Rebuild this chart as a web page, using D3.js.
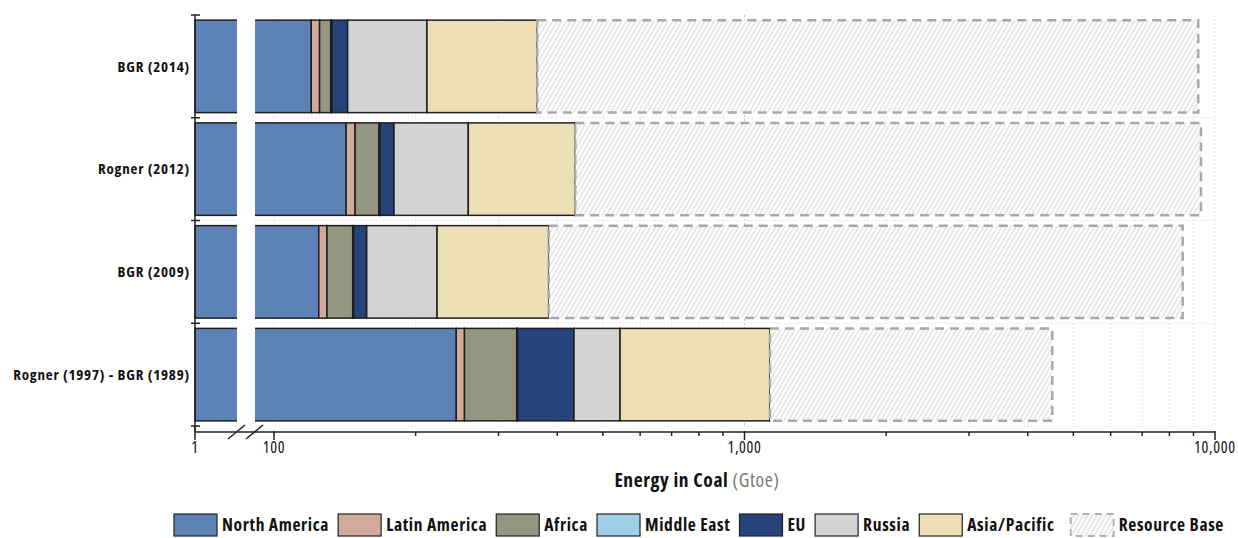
<!DOCTYPE html>
<html>
<head>
<meta charset="utf-8">
<script src="https://cdn.jsdelivr.net/npm/d3@7"></script>
<style>
  body { margin: 0; background: #fff; }
  svg text { font-family: "Open Sans", Roboto, sans-serif; font-stretch: 75%; }
</style>
</head>
<body>
<svg id="chart" width="1238" height="538"></svg>
<script>
const categories = ["BGR (2014)", "Rogner (2012)", "BGR (2009)", "Rogner (1997) - BGR (1989)"];
const regions = ["North America", "Latin America", "Africa", "Middle East", "EU", "Russia", "Asia/Pacific", "Resource Base"];

// Gtoe per region, one value per study (same order as categories)
const northAmerica = [120, 142.3, 124.5, 244];
const latinAmerica = [5, 6.4, 5.1, 10];
const africa = [7, 18.5, 17.4, 74];
const middleEast = [0.8, 0.8, 0.7, 1.5];
const eu = [10.6, 11.9, 9.7, 104.6];
const russia = [68, 78.9, 64.7, 109.7];
const asiaPacific = [151.3, 178.1, 161.5, 589];
const resourceBase = [8850, 8900, 8154, 3377];

const majorTicks = [100, 1000, 10000];
const minorTicks = [200, 300, 400, 500, 600, 700, 800, 900, 2000, 3000, 4000, 5000, 6000, 7000, 8000, 9000];

const colors = ["#5d82b6", "#d0ab9b", "#949681", "#9fd0e8", "#26437b", "#d3d3d3", "#ecdfb5", "url(#hatch)"];

const series = [northAmerica, latinAmerica, africa, middleEast, eu, russia, asiaPacific, resourceBase];

const svg = d3.select("#chart");

const defs = svg.append("defs");
const pat = defs.append("pattern")
    .attr("id", "hatch")
    .attr("patternUnits", "userSpaceOnUse")
    .attr("width", 4).attr("height", 4)
    .attr("patternTransform", "rotate(30)");
pat.append("rect").attr("width", 4).attr("height", 4).attr("fill", "#fff");
pat.append("line")
    .attr("x1", 1).attr("y1", 0).attr("x2", 1).attr("y2", 4)
    .attr("stroke", "#d2d2d2").attr("stroke-width", 1);

// broken log axis: small left piece starting at 1, main piece from ~90 up
const axisY = 432;
const gapL = 237, gapR = 255;
const xLeft = d3.scaleLog().domain([1, 10]).range([195, gapL]).clamp(true);
const xRight = d3.scaleLog().domain([100, 10000]).range([274, 1215]);
const breakVal = xRight.invert(gapR);
const xPos = v => v < breakVal ? xLeft(Math.max(v, 1)) : xRight(v);

const y = d3.scaleBand()
    .domain(categories)
    .range([15, 426])
    .paddingInner(0.1)
    .paddingOuter(0.05);
const step = y.step();
const bounds = d3.range(categories.length + 1).map(i => 15 + i * step);

// grid
const grid = svg.append("g");
grid.selectAll(".vg")
    .data(minorTicks.concat(majorTicks))
    .enter().append("line")
    .attr("x1", d => xRight(d)).attr("x2", d => xRight(d))
    .attr("y1", 15).attr("y2", 426)
    .attr("stroke", d => d === 1000 ? "#bdbdbd" : "#e6e6e6")
    .attr("stroke-dasharray", "2,2");
grid.selectAll(".hg")
    .data(bounds.slice(1))
    .enter().append("line")
    .attr("x1", 195).attr("x2", 1215)
    .attr("y1", d => d).attr("y2", d => d)
    .attr("stroke", "#e6e6e6")
    .attr("stroke-dasharray", "2,2");

// stacked bars
const rows = categories.map((c, i) => {
    let acc = 0;
    return regions.map((r, k) => {
        const v0 = acc;
        acc += series[k][i];
        return { cat: c, region: r, k, v0, v1: acc };
    });
});

const bars = svg.append("g");
rows.forEach(segs => {
    bars.selectAll(null)
        .data(segs.filter(s => s.v1 > s.v0))
        .enter().append("rect")
        .attr("x", d => xPos(Math.max(d.v0, 1)))
        .attr("width", d => xPos(d.v1) - xPos(Math.max(d.v0, 1)))
        .attr("y", d => y(d.cat))
        .attr("height", y.bandwidth())
        .attr("fill", d => colors[d.k])
        .attr("stroke", d => d.k === 7 ? "#a8a8a8" : "#1e1e1e")
        .attr("stroke-width", d => d.k === 7 ? 2.5 : 1.5)
        .attr("stroke-dasharray", d => d.k === 7 ? "9,6" : null);
});

// white gap of the axis break
svg.append("rect")
    .attr("x", gapL).attr("y", 12)
    .attr("width", gapR - gapL).attr("height", 419)
    .attr("fill", "#fff");

// y axis
const yAxis = svg.append("g");
yAxis.append("line")
    .attr("x1", 195).attr("x2", 195)
    .attr("y1", 15).attr("y2", axisY)
    .attr("stroke", "#222").attr("stroke-width", 1.5);
yAxis.selectAll(".yt")
    .data(bounds)
    .enter().append("line")
    .attr("x1", 191).attr("x2", 200)
    .attr("y1", d => d).attr("y2", d => d)
    .attr("stroke", "#222").attr("stroke-width", 1.5);
yAxis.selectAll(".yl")
    .data(categories)
    .enter().append("text")
    .attr("x", 190)
    .attr("y", d => y(d) + y.bandwidth() / 2)
    .attr("dy", "0.35em")
    .attr("text-anchor", "end")
    .attr("font-size", 15)
    .attr("letter-spacing", 0.8)
    .attr("font-weight", "bold")
    .attr("fill", "#111")
    .text(d => d);

// x axis
const xAxisG = svg.append("g").attr("transform", `translate(0,${axisY})`);
xAxisG.append("line")
    .attr("x1", 195).attr("x2", 1215)
    .attr("stroke", "#222").attr("stroke-width", 1.5);
xAxisG.selectAll(".mt")
    .data(minorTicks)
    .enter().append("line")
    .attr("x1", d => xRight(d)).attr("x2", d => xRight(d))
    .attr("y1", 0).attr("y2", 4)
    .attr("stroke", "#222").attr("stroke-width", 1.5);
const majors = [{ v: 1, x: xLeft(1) }].concat(majorTicks.map(v => ({ v, x: xRight(v) })));
xAxisG.selectAll(".Mt")
    .data(majors)
    .enter().append("line")
    .attr("x1", d => d.x).attr("x2", d => d.x)
    .attr("y1", d => d.v === 1 ? -6 : -1).attr("y2", 8)
    .attr("stroke", "#222").attr("stroke-width", 1.5);
xAxisG.selectAll(".Ml")
    .data(majors)
    .enter().append("text")
    .attr("x", d => d.x)
    .attr("y", 21)
    .attr("text-anchor", "middle")
    .attr("font-size", 16)
    .attr("letter-spacing", 0.7)
    .attr("fill", "#111")
    .text(d => d3.format(",")(d.v));
// break marks
[228, 246].forEach(x0 => {
    xAxisG.append("line")
        .attr("x1", x0).attr("y1", 7)
        .attr("x2", x0 + 17).attr("y2", -7)
        .attr("stroke", "#222").attr("stroke-width", 1.5);
});

// axis title
const title = svg.append("text")
    .attr("x", 697).attr("y", 487)
    .attr("text-anchor", "middle")
    .attr("font-size", 19.5)
    .attr("letter-spacing", 0.6)
    .attr("fill", "#111");
title.append("tspan").attr("font-weight", "bold").text("Energy in Coal");
title.append("tspan").attr("fill", "#777").text(" (Gtoe)");

// legend
const legend = svg.append("g");
let lx = 0;
regions.forEach((r, k) => {
    const g = legend.append("g");
    g.append("rect")
        .attr("x", lx).attr("y", 514)
        .attr("width", 43).attr("height", 22)
        .attr("fill", colors[k])
        .attr("stroke", k === 7 ? "#b0b0b0" : "#222")
        .attr("stroke-width", k === 7 ? 2 : 1.2)
        .attr("stroke-dasharray", k === 7 ? "7,5" : null);
    const t = g.append("text")
        .attr("x", lx + 48).attr("y", 531)
        .attr("font-size", 17.5)
        .attr("letter-spacing", 0.65)
        .attr("font-weight", "bold")
        .attr("fill", "#111")
        .text(r);
    lx += 48 + t.node().getComputedTextLength() + (k === 6 ? 16 : 9);
});
const lw = lx - 9;
legend.attr("transform", `translate(${699 - lw / 2},0)`);
</script>
</body>
</html>
